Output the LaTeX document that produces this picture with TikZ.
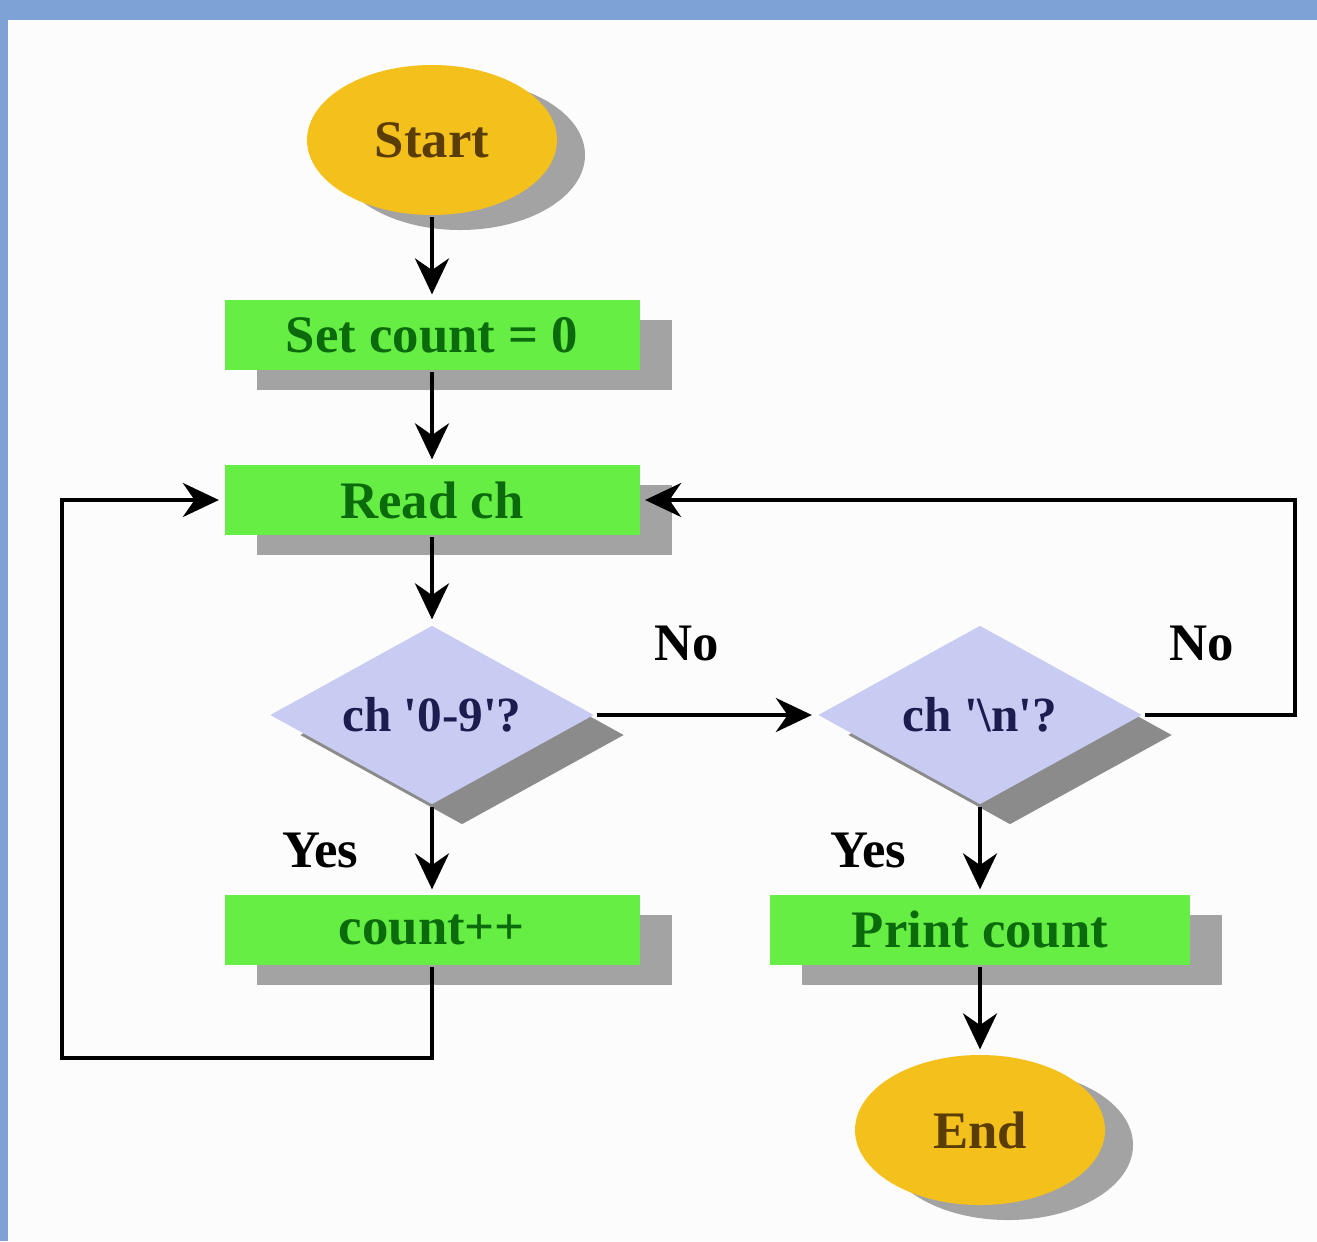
\documentclass[tikz,border=0pt]{standalone}
\usepackage{fontspec}
\setmainfont{Liberation Serif}
\usetikzlibrary{positioning,shapes.geometric,shadows,arrows.meta}

\definecolor{framebg}{HTML}{7FA2D6}
\definecolor{pagebg}{HTML}{FCFCFC}
\definecolor{termfill}{HTML}{F4C01C}
\definecolor{termtext}{HTML}{5A3C05}
\definecolor{boxfill}{HTML}{66EE44}
\definecolor{boxtext}{HTML}{0B6A0B}
\definecolor{testfill}{HTML}{C9CCF2}
\definecolor{testtext}{HTML}{1C1C4E}
\definecolor{shadowgray}{HTML}{A3A3A3}

\begin{document}
\begin{tikzpicture}[-,>={Stealth[length=3.6mm,width=3.4mm]},shorten >=1pt,line width=1.2pt,node distance=2cm,
    term node/.style={ellipse,fill=termfill,minimum width=2.5cm,minimum height=1.5cm,text=termtext,
        font=\bfseries\fontsize{15}{18}\selectfont,
        drop shadow={shadow xshift=0.28cm,shadow yshift=-0.15cm,fill=shadowgray,opacity=1}},
    box node/.style={rectangle,fill=boxfill,minimum width=4.15cm,minimum height=0.7cm,text=boxtext,
        font=\bfseries\fontsize{15}{18}\selectfont,
        drop shadow={shadow xshift=0.32cm,shadow yshift=-0.2cm,fill=shadowgray,opacity=1}},
    test node/.style={diamond,aspect=1.8,inner sep=1pt,fill=testfill,minimum width=3.25cm,minimum height=1.8cm,
        text=testtext,font=\bfseries\fontsize{14}{17}\selectfont,
        drop shadow={shadow xshift=0.3cm,shadow yshift=-0.2cm,fill=shadowgray!85!black,opacity=1}},
    answer/.style={font=\bfseries\fontsize{15}{18}\selectfont,text=black}]
    \fill[framebg] (0,0) rectangle (13.17,-12.41);
    \fill[pagebg] (0.08,-0.2) rectangle (13.17,-12.41);
    \useasboundingbox (0,0) rectangle (13.17,-12.41);

    \node[term node] (start) at (4.32,-1.40) {Start};
    \node[box node,node distance=1.95cm] (init) [below of = start] {Set count = 0};
    \node[box node,node distance=1.65cm] (read) [below of = init] {Read ch};
    \node[test node,node distance=2.15cm] (digit) [below of = read] {ch \textquotesingle 0-9\textquotesingle ?};
    \node[test node,node distance=5.48cm] (newline) [right of = digit] {ch \textquotesingle\textbackslash n\textquotesingle ?};
    \node[box node,node distance=2.15cm] (inc) [below of = digit] {count++};
    \node[box node,minimum width=4.2cm,node distance=2.15cm] (print) [below of = newline] {Print count};
    \node[term node,node distance=2.0cm] (end) [below of = print] {End};
    \coordinate (back) at (0.62,-10.58);

    \path[->]
        (start) edge (init)
        (init) edge (read)
        (read) edge (digit)
        (print) edge (end)
        ;
    \draw[->] (digit) -- node[answer,left=6mm] {Yes} (inc);
    \draw[->] (newline) -- node[answer,left=6mm] {Yes} (print);
    \draw[->] (digit) -- node[answer,pos=0.41,above=4mm] {No} (newline);
    \draw[->] (newline.east) -- node[answer,pos=0.38,above=4mm] {No} ++(1.5,0) |- (read.east);
    \draw[->] (inc.south) |- (back) |- (read.west);
\end{tikzpicture}
\end{document}
